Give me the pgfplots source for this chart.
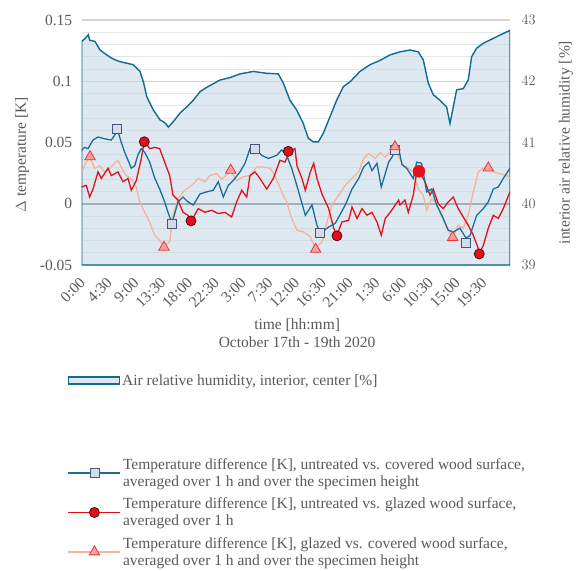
\documentclass[border=0pt]{standalone}
\usepackage{pgfplots}
\pgfplotsset{compat=1.18}
\usepackage{fontspec}
\setmainfont{Liberation Serif}
\definecolor{txt}{HTML}{595959}
\definecolor{humline}{HTML}{0F6A94}
\definecolor{humfill}{HTML}{C3D6E4}
\definecolor{bluet}{HTML}{1B6F97}
\definecolor{redt}{HTML}{E3101C}
\definecolor{salm}{HTML}{F6B39A}
\definecolor{sqfill}{HTML}{D5DCE6}
\definecolor{sqedge}{HTML}{44587F}
\definecolor{cedge}{HTML}{4A0A0A}
\definecolor{trfill}{HTML}{F7A2A0}
\definecolor{tredge}{HTML}{E8323C}
\definecolor{majgrid}{HTML}{D4D4D4}
\definecolor{mingrid}{HTML}{E6E6E6}
\definecolor{zerol}{HTML}{7F7F7F}
\pgfplotsset{
  base/.style={
    width=428.3pt, height=245pt, scale only axis,
    at={(81.7pt,305pt)}, anchor=south west,
    xmin=0, xmax=72,
    font=\fontsize{15.5}{18}\selectfont,
    every tick label/.append style={text=txt},
    label style={text=txt},
    tick style={draw=none},
    major tick length=0pt, minor tick length=0pt,
  },
}
\begin{document}
\begin{tikzpicture}
\path[use as bounding box] (0pt,0pt) rectangle (577pt,570pt);

% axis 1: grid, left ticks, x ticks
\begin{axis}[base,
  ymin=-0.05, ymax=0.15,
  axis lines*=left,
  axis line style={draw=none},
  ytick={-0.05,0.05,0.1,0.15},
  yticklabels={-0.05,0.05,0.1,0.15},
  extra y ticks={0},
  extra y tick labels={0},
  extra y tick style={grid=major, major grid style={zerol, line width=1.6pt}},
  minor ytick={-0.04,-0.03,-0.02,-0.01,0.01,0.02,0.03,0.04,0.06,0.07,0.08,0.09,0.11,0.12,0.13,0.14},
  ymajorgrids, yminorgrids,
  major grid style={majgrid, line width=1.2pt},
  minor grid style={mingrid, line width=0.9pt},
  yticklabel style={xshift=-6pt},
  xtick={0,4.5,9,13.5,18,22.5,27,31.5,36,40.5,45,49.5,54,58.5,63,67.5},
  xticklabels={0:00,4:30,9:00,13:30,18:00,22:30,3:00,7:30,12:00,16:30,21:00,1:30,6:00,10:30,15:00,19:30},
  xticklabel style={rotate=45, anchor=north east, xshift=-9pt, yshift=-5pt, inner sep=1pt},
  ylabel={$\Delta$ temperature [K]},
  ylabel style={at={(axis description cs:-0.139,0.45)}, anchor=center},
  xlabel={time [hh:mm]\\October 17th - 19th 2020},
  xlabel style={align=center, at={(axis description cs:0.503,-0.28)}, anchor=center},
]
\addplot[draw=none, forget plot] coordinates {(0,0) (72,0)};
\end{axis}

% axis 2: humidity
\begin{axis}[base,
  ymin=39, ymax=43,
  axis y line*=right, axis x line=none,
  axis line style={draw=none},
  ytick={39,40,41,42,43},
  yticklabel style={xshift=8pt},
  ylabel={interior air relative humidity [\%]},
  ylabel style={at={(axis description cs:1.1308,0.5)}, anchor=center},
  legend style={at={(axis description cs:-0.040,-0.43)}, anchor=north west,
    draw=none, fill=none, text=txt, font=\fontsize{15.5}{18}\selectfont,
    cells={anchor=west}},
  legend image code/.code={\draw[#1] (0pt,-3.5pt) rectangle (51pt,3.5pt);},
]
\addplot[draw=humline, line width=1.4pt, fill=humfill, fill opacity=0.55] coordinates {
(0,42.65) (0.6,42.70) (1.11,42.76) (1.34,42.67) (2.24,42.65) (3.08,42.51) (4.20,42.43) (5.0,42.38) (5.60,42.35)
(6.44,42.32) (8.67,42.27) (9.80,42.16) (10.4,41.98) (10.93,41.75) (12.04,41.53) (13.16,41.37)
(13.72,41.34) (14.2,41.30) (14.56,41.25) (15.40,41.34) (16.52,41.48) (17.65,41.58) (18.76,41.69)
(19.89,41.83) (21.01,41.90) (23.25,42.02) (24.93,42.06) (26.61,42.12) (28.84,42.16)
(31.10,42.13) (33.05,42.12) (33.89,41.97) (35.01,41.69) (36.14,41.53) (37.25,41.31)
(38.09,41.07) (38.93,41.01) (39.77,41.01) (40.61,41.15) (41.74,41.42) (42.86,41.69)
(43.97,41.91) (45.10,41.99) (46.78,42.16) (48.46,42.27) (50.14,42.34) (51.82,42.43)
(53.50,42.48) (55.19,42.51) (56.58,42.48) (57.42,42.35) (58.26,41.97) (59.10,41.78)
(60.23,41.69) (61.35,41.58) (61.91,41.31) (62.46,41.58) (63.03,41.86) (64.14,41.88)
(64.98,42.02) (65.55,42.40) (66.40,42.54) (67.51,42.62) (69.19,42.70) (70.87,42.78)
(72,42.83)
} \closedcycle;
\addlegendentry{Air relative humidity, interior, center [\%]}
\end{axis}

% axis 3: temperature series
\begin{axis}[base,
  ymin=-0.05, ymax=0.15,
  hide axis,
  legend style={at={(axis description cs:-0.040,-0.772)}, anchor=north west,
    draw=none, fill=none, text=txt, font=\fontsize{15.5}{17}\selectfont,
    cells={anchor=west, align=left}, row sep=6pt},
  legend image code/.code={\draw[#1, mark repeat=2, mark phase=2] plot coordinates {(0pt,0pt) (26pt,0pt) (52pt,0pt)};},
]
% salmon: glazed vs covered
\addplot[salm, line width=1.3pt, forget plot] coordinates {
(0,0.026) (0.77,0.034) (1.34,0.038) (2.19,0.029) (3.03,0.031) (3.87,0.026) (4.71,0.029)
(5.55,0.033) (6.10,0.0355) (6.94,0.027) (7.50,0.023) (8.34,0.0206) (9.18,0.0137)
(9.75,0.0015) (10.59,-0.007) (11.43,-0.015) (12.27,-0.0257) (13.11,-0.030) (13.83,-0.035)
(14.79,-0.031) (15.35,-0.0094) (16.19,0.0042) (17.31,0.011) (18.49,0.015) (19.60,0.0206)
(20.73,0.018) (21.57,0.023) (22.69,0.0246) (23.53,0.020) (25.05,0.027) (26.05,0.019)
(27.16,0.022) (28.29,0.023) (29.42,0.030) (30.53,0.030) (31.65,0.029) (32.49,0.023)
(33.62,0.0097) (34.46,0.0015) (35.30,-0.012) (36.19,-0.0216) (37.32,-0.023) (38.43,-0.027)
(39.27,-0.0365) (40.39,-0.031) (41.23,-0.015) (42.08,-0.001) (43.20,0.007) (44.31,0.015)
(45.44,0.0206) (46.56,0.026) (47.40,0.037) (48.24,0.041) (49.35,0.037) (50.19,0.042)
(51.03,0.038) (52.16,0.0437) (52.61,0.046) (53.29,0.038) (54.13,0.031) (54.63,0.030)
(55.74,0.026) (56.58,0.012) (57.42,0.007) (57.99,-0.0053) (58.83,0.0042) (59.67,0.0)
(60.51,-0.0094) (61.35,-0.020) (62.36,-0.0275) (63.30,-0.0176) (64.14,-0.020)
(64.98,-0.0094) (65.83,0.0097) (66.67,0.026) (67.51,0.029) (68.18,0.029) (69.19,0.026)
(70.31,0.0246) (71.44,0.023) (72,0.0206)
};
% red: untreated vs glazed
\addplot[redt, line width=1.3pt, forget plot] coordinates {
(0,0.0137) (0.77,0.015) (1.34,0.0055) (1.90,0.012) (2.74,0.026) (3.29,0.0206) (4.42,0.029)
(4.98,0.023) (6.10,0.026) (6.94,0.018) (7.78,0.0206) (8.34,0.011) (9.18,0.019) (10.02,0.037)
(10.52,0.051) (11.43,0.045) (12.27,0.046) (13.11,0.045) (13.95,0.034) (14.79,0.023)
(15.35,0.007) (16.19,0.003) (17.03,-0.007) (17.87,-0.0094) (18.37,-0.0143) (19.60,-0.004)
(20.73,-0.007) (21.85,-0.0053) (22.96,-0.008) (24.09,-0.007) (25.21,-0.0108) (26.05,0.0015)
(26.90,0.011) (27.74,0.0055) (28.29,0.023) (29.13,0.026) (29.97,0.0206) (31.10,0.012)
(32.21,0.0206) (33.33,0.0355) (34.17,0.034) (35.01,0.043) (35.85,0.045) (36.19,0.031)
(37.03,0.0206) (37.59,0.011) (38.43,0.026) (39.00,0.033) (39.55,0.0206) (40.39,0.008)
(41.52,-0.004) (42.36,-0.020) (42.91,-0.0257) (43.75,-0.0149) (44.88,-0.0135)
(45.44,-0.0026) (46.28,-0.012) (47.12,-0.004) (47.96,-0.0094) (48.80,-0.007) (49.64,-0.015)
(50.36,-0.0257) (51.03,-0.012) (51.87,-0.007) (52.71,-0.001) (53.29,0.003) (53.50,-0.001)
(54.35,0.003) (54.90,-0.007) (55.74,0.007) (56.31,0.026) (56.75,0.0265) (57.71,0.018)
(58.55,0.007) (59.10,0.012) (59.94,0.0) (60.78,-0.004) (61.62,0.0015) (62.46,0.0055)
(63.30,-0.004) (64.14,-0.0108) (64.98,-0.0176) (65.83,-0.0257) (66.67,-0.0365)
(66.83,-0.0407) (67.51,-0.034) (68.35,-0.020) (69.19,-0.0094) (70.03,-0.012)
(70.87,-0.004) (72,0.0097)
};
% blue: untreated vs covered
\addplot[bluet, line width=1.3pt, forget plot] coordinates {
(0,0.0437) (0.50,0.046) (1.06,0.045) (1.90,0.052) (2.74,0.0545) (3.87,0.053) (4.98,0.052)
(5.55,0.056) (5.98,0.061) (6.66,0.050) (7.23,0.042) (8.34,0.029) (8.91,0.031) (9.46,0.040)
(10.02,0.045) (10.59,0.042) (11.43,0.034) (12.27,0.021) (13.11,0.012) (13.95,0.0015)
(14.51,-0.007) (15.18,-0.016) (16.19,0.0015) (17.03,0.0055) (17.87,0.0015) (18.76,-0.001)
(19.89,0.008) (21.01,0.0097) (22.12,0.011) (22.96,0.018) (23.80,0.0055) (24.64,0.015)
(25.48,0.019) (26.61,0.026) (27.45,0.033) (28.29,0.045) (29.13,0.0455) (30.26,0.0395)
(31.37,0.037) (32.78,0.0395) (33.62,0.044) (34.46,0.0395) (35.30,0.029) (36.48,0.0097)
(37.59,-0.0094) (38.71,-0.001) (39.55,-0.0175) (40.11,-0.024) (41.52,-0.019)
(42.63,-0.016) (44.31,-0.001) (45.44,0.012) (46.56,0.0206) (47.40,0.030) (48.24,0.034)
(48.80,0.027) (49.64,0.033) (50.36,0.0137) (51.03,0.0246) (51.61,0.034) (52.16,0.038)
(52.71,0.0437) (53.29,0.045) (53.84,0.032) (54.63,0.029) (55.74,0.0206) (56.31,0.034)
(57.15,0.033) (57.99,0.0097) (58.83,0.012) (59.67,-0.001) (60.78,-0.012) (61.62,-0.0216)
(62.46,-0.023) (63.59,-0.020) (64.60,-0.028) (65.27,-0.026) (66.40,-0.0094)
(67.51,-0.004) (68.35,0.0015) (69.19,0.012) (70.03,0.0137) (70.87,0.0206) (72,0.029)
};
% markers
\addplot[only marks, mark=square*, mark size=4.5pt, mark options={fill=sqfill, draw=sqedge, line width=0.8pt}, forget plot]
  coordinates {(5.98,0.0608) (15.13,-0.0167) (29.13,0.045) (40.06,-0.0235) (52.66,0.0437) (64.60,-0.032)};
\addplot[only marks, mark=*, mark size=5pt, mark options={fill=redt, draw=cedge, line width=0.8pt}, forget plot]
  coordinates {(10.52,0.0506) (18.37,-0.0140) (34.73,0.0428) (42.91,-0.0262) (66.83,-0.041)};
\addplot[only marks, mark=*, mark size=6pt, mark options={fill=redt, draw=redt}, forget plot]
  coordinates {(56.70,0.0265)};
\addplot[only marks, mark=triangle*, mark size=6pt, mark options={fill=trfill, draw=tredge, line width=0.8pt}, forget plot]
  coordinates {(1.40,0.0384) (13.83,-0.0355) (25.05,0.0274) (39.33,-0.0372) (52.66,0.0465) (62.36,-0.0275) (68.35,0.0292)};

\addlegendimage{bluet, line width=1.3pt, mark=square*, mark size=4.5pt, mark options={fill=sqfill, draw=sqedge, line width=0.8pt}}
\addlegendentry{Temperature difference [K], untreated vs. covered wood surface,\\averaged over 1 h and over the specimen height}
\addlegendimage{redt, line width=1.3pt, mark=*, mark size=5pt, mark options={fill=redt, draw=cedge, line width=0.8pt}}
\addlegendentry{Temperature difference [K], untreated vs. glazed wood surface,\\averaged over 1 h}
\addlegendimage{salm, line width=1.3pt, mark=triangle*, mark size=6pt, mark options={fill=trfill, draw=tredge, line width=0.8pt}}
\addlegendentry{Temperature difference [K], glazed vs. covered wood surface,\\averaged over 1 h and over the specimen height}
\end{axis}
\end{tikzpicture}
\end{document}
